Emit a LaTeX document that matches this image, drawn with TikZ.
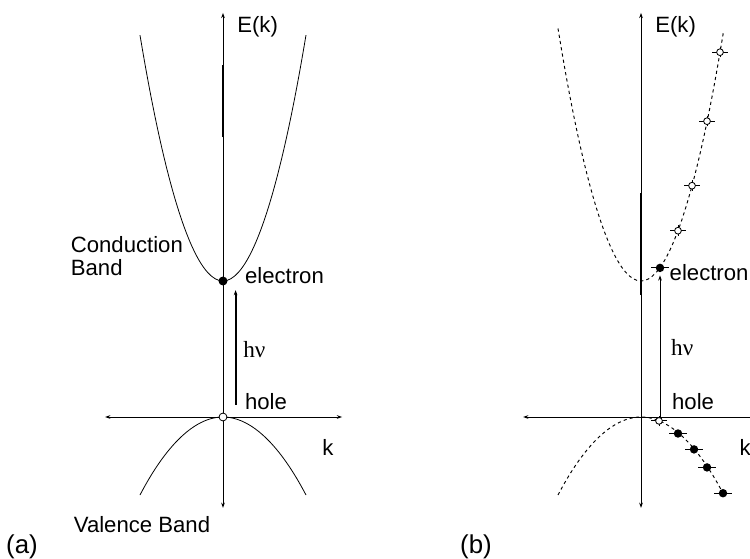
\documentclass[tikz,border=0pt]{standalone}
\usepackage{fontspec}
\setmainfont{Liberation Sans}
\newfontfamily\nufont{Liberation Serif}
\usetikzlibrary{arrows.meta}

\begin{document}
\begin{tikzpicture}[
  >={Stealth[length=5pt,width=3.5pt]},
  axis/.style={line width=0.75pt,<->},
  band/.style={line width=0.75pt},
  dashband/.style={line width=0.9pt,dash pattern=on 3pt off 3pt},
  lbl/.style={inner sep=0pt,font=\fontsize{21}{21.7}\selectfont},
  nulbl/.style={inner sep=0pt,font=\nufont\fontsize{22}{24}\selectfont},
  tag/.style={inner sep=0pt,font=\fontsize{24.5}{26}\selectfont},
  fulldot/.style={circle,fill,inner sep=0pt,minimum size=8.5pt},
  holedot/.style={circle,draw,fill=white,inner sep=0pt,minimum size=7.5pt,line width=0.75pt},
  openmark/.pic={\draw[line width=0.8pt] (-7.5pt,0) -- (7.5pt,0) (0,-5pt) -- (0,5pt);
    \filldraw[fill=white,line width=0.8pt] (0,0) circle (3.2pt);},
  fullmark/.pic={\draw[line width=0.8pt] (-8.5pt,0) -- (8.5pt,0);
    \fill (0,0) circle (4pt);}
]
\useasboundingbox (0,0) rectangle (25,18.633);

% (a) direct transition
\begin{scope}[shift={(7.433,4.733)}]
  \draw[axis] (-3.93,0) -- (3.97,0);
  \draw[axis] (0,-3.03) -- (0,13.47);
  \draw[line width=2.4pt] (0,9.33) -- (0,11.73);
  % conduction and valence bands
  \draw[band] (-2.767,12.73) parabola bend (0,4.533) (2.767,12.73);
  \draw[band] (-2.767,-2.6) parabola bend (0,0) (2.767,-2.6);
  \node[fulldot] (ea) at (0,4.533) {};
  \node[holedot] (ha) at (0,0) {};
  % photon absorption
  \coordinate (hva) at (0.42,0.4);
  \coordinate (hvatop) at (0.42,4.23);
  \draw[line width=2pt,->] (hva) -- (hvatop);
  \node[lbl,anchor=west] (eka) at (0.47,13.0) {E(k)};
  \node[lbl,anchor=east,align=left] (cba) at (-1.33,5.35) {Conduction\\Band};
  \node[lbl,anchor=west] (ela) at (0.73,4.7) {electron};
  \node[nulbl,anchor=west] (nua) at (0.67,2.25) {hν};
  \node[lbl,anchor=west] (hla) at (0.73,0.5) {hole};
  \node[lbl] (ka) at (3.5,-1.03) {k};
  \node[lbl] (vba) at (-2.7,-3.6) {Valence Band};
  \node[tag] (taga) at (-6.7,-4.33) {(a)};
\end{scope}

% (b) indirect transition
\begin{scope}[shift={(21.367,4.733)}]
  \draw[axis] (-3.93,0) -- (3.97,0);
  \draw[axis] (0,-3.03) -- (0,13.47);
  \draw[line width=2.4pt] (0,4.07) -- (0,7.47);
  % dashed bands with occupied states
  \draw[dashband] (-2.767,12.95) parabola bend (0,4.533) (2.74,12.79);
  \draw[dashband] (-2.767,-2.6) parabola bend (0,0) (2.733,-2.54);
  \pic at (2.633,12.16) {openmark};
  \pic at (2.2,9.86) {openmark};
  \pic at (1.7,7.71) {openmark};
  \pic at (1.233,6.21) {openmark};
  \coordinate (eb) at (0.633,4.97);
  \pic at (eb) {fullmark};
  \pic at (0.6,-0.13) {openmark};
  \pic at (1.233,-0.55) {fullmark};
  \pic at (1.767,-1.08) {fullmark};
  \pic at (2.2,-1.68) {fullmark};
  \pic at (2.733,-2.54) {fullmark};
  % photon absorption
  \coordinate (hvb) at (0.633,0);
  \coordinate (hvbtop) at (0.633,4.72);
  \draw[line width=0.75pt,->] (hvb) -- (hvbtop);
  \node[lbl,anchor=west] (ekb) at (0.47,13.0) {E(k)};
  \node[lbl,anchor=west] (elb) at (0.95,4.83) {electron};
  \node[nulbl,anchor=west] (nub) at (1.0,2.32) {hν};
  \node[lbl,anchor=west] (hlb) at (1.03,0.5) {hole};
  \node[lbl] (kb) at (3.47,-1.03) {k};
  \node[tag] (tagb) at (-5.5,-4.33) {(b)};
\end{scope}
\end{tikzpicture}
\end{document}
